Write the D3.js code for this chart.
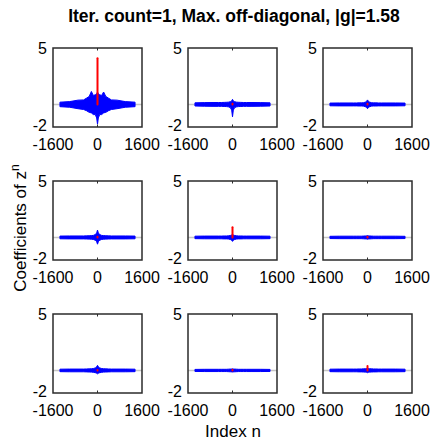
<!DOCTYPE html>
<html>
<head>
<meta charset="utf-8">
<script src="https://cdn.jsdelivr.net/npm/d3@7/dist/d3.min.js"></script>
<style>
  body { margin: 0; background: #fff; }
  svg text { font-family: "Liberation Sans", Arial, Helvetica, sans-serif; fill: #000; }
</style>
</head>
<body>
<svg id="chart" width="436" height="440"></svg>
<script>
// axis values
const xTicks = [-1600, 0, 1600];
const yTicks = [-2, 5];
const xDomain = [-1600, 1600];
const yDomain = [-2, 5];

// sample positions for the envelope of the blue (off-diagonal) coefficients
const envX = [-1350, -1000, -700, -500, -400, -300, -220, -150, -80, -30, 0,
              30, 80, 150, 220, 300, 400, 500, 700, 1000, 1350];

// upper / lower envelope of the blue band, one row per subplot (row-major)
const envUpper = [
  [0.2, 0.25, 0.38, 0.4, 0.55, 0.7, 1.15, 0.8, 0.85, 0.95, 1.1, 0.95, 0.85, 0.8, 1.1, 0.7, 0.55, 0.4, 0.38, 0.25, 0.2],
  [0.14, 0.16, 0.17, 0.17, 0.17, 0.18, 0.19, 0.2, 0.24, 0.3, 0.45, 0.3, 0.24, 0.2, 0.19, 0.18, 0.17, 0.17, 0.17, 0.16, 0.14],
  [0.12, 0.13, 0.13, 0.13, 0.13, 0.14, 0.14, 0.15, 0.2, 0.28, 0.4, 0.28, 0.2, 0.15, 0.14, 0.14, 0.13, 0.13, 0.13, 0.13, 0.12],
  [0.12, 0.13, 0.13, 0.13, 0.14, 0.15, 0.16, 0.18, 0.25, 0.4, 0.65, 0.4, 0.25, 0.18, 0.16, 0.15, 0.14, 0.13, 0.13, 0.13, 0.12],
  [0.11, 0.12, 0.12, 0.12, 0.12, 0.13, 0.13, 0.14, 0.17, 0.22, 0.28, 0.22, 0.17, 0.14, 0.13, 0.13, 0.12, 0.12, 0.12, 0.12, 0.11],
  [0.1, 0.11, 0.11, 0.11, 0.11, 0.11, 0.11, 0.12, 0.13, 0.14, 0.16, 0.14, 0.13, 0.12, 0.11, 0.11, 0.11, 0.11, 0.11, 0.11, 0.1],
  [0.11, 0.12, 0.12, 0.12, 0.13, 0.14, 0.15, 0.17, 0.22, 0.32, 0.45, 0.32, 0.22, 0.17, 0.15, 0.14, 0.13, 0.12, 0.12, 0.12, 0.11],
  [0.09, 0.1, 0.1, 0.1, 0.1, 0.1, 0.1, 0.11, 0.12, 0.13, 0.14, 0.13, 0.12, 0.11, 0.1, 0.1, 0.1, 0.1, 0.1, 0.1, 0.09],
  [0.11, 0.12, 0.12, 0.12, 0.12, 0.13, 0.13, 0.14, 0.15, 0.17, 0.2, 0.17, 0.15, 0.14, 0.13, 0.13, 0.12, 0.12, 0.12, 0.12, 0.11]
];
const envLower = [
  [-0.2, -0.25, -0.38, -0.45, -0.55, -0.7, -0.75, -0.9, -0.9, -1.2, -1.75, -1.2, -0.9, -0.9, -0.75, -0.7, -0.55, -0.45, -0.38, -0.25, -0.2],
  [-0.14, -0.16, -0.17, -0.17, -0.17, -0.18, -0.19, -0.21, -0.28, -0.5, -1.1, -0.5, -0.28, -0.21, -0.19, -0.18, -0.17, -0.17, -0.17, -0.16, -0.14],
  [-0.12, -0.13, -0.13, -0.13, -0.13, -0.14, -0.14, -0.15, -0.2, -0.28, -0.38, -0.28, -0.2, -0.15, -0.14, -0.14, -0.13, -0.13, -0.13, -0.13, -0.12],
  [-0.12, -0.13, -0.13, -0.13, -0.14, -0.15, -0.16, -0.18, -0.25, -0.38, -0.6, -0.38, -0.25, -0.18, -0.16, -0.15, -0.14, -0.13, -0.13, -0.13, -0.12],
  [-0.11, -0.12, -0.12, -0.12, -0.12, -0.13, -0.13, -0.14, -0.18, -0.25, -0.35, -0.25, -0.18, -0.14, -0.13, -0.13, -0.12, -0.12, -0.12, -0.12, -0.11],
  [-0.1, -0.11, -0.11, -0.11, -0.11, -0.11, -0.11, -0.12, -0.13, -0.14, -0.16, -0.14, -0.13, -0.12, -0.11, -0.11, -0.11, -0.11, -0.11, -0.11, -0.1],
  [-0.11, -0.12, -0.12, -0.12, -0.13, -0.14, -0.15, -0.17, -0.2, -0.25, -0.3, -0.25, -0.2, -0.17, -0.15, -0.14, -0.13, -0.12, -0.12, -0.12, -0.11],
  [-0.09, -0.1, -0.1, -0.1, -0.1, -0.1, -0.1, -0.11, -0.12, -0.13, -0.14, -0.13, -0.12, -0.11, -0.1, -0.1, -0.1, -0.1, -0.1, -0.1, -0.09],
  [-0.11, -0.12, -0.12, -0.12, -0.12, -0.13, -0.13, -0.14, -0.15, -0.17, -0.2, -0.17, -0.15, -0.14, -0.13, -0.13, -0.12, -0.12, -0.12, -0.12, -0.11]
];

// red (diagonal) coefficient at index 0, per subplot
const redValues = [4.1, 0.05, 0.05, 0.05, 0.9, 0.05, 0.03, 0.05, 0.4];

const titleText = "Iter. count=1, Max. off-diagonal, |g|=1.58";

// layout
const svg = d3.select('#chart');
const colLeft = [53, 188, 323],
      rowTop = [48, 181, 314],
      panelW = 89,
      panelH = 79;

const x = d3.scaleLinear().domain(xDomain).range([0, panelW]);
const y = d3.scaleLinear().domain(yDomain).range([panelH, 0]);

const area = d3.area()
  .x((d, i) => x(envX[i]))
  .y0(d => y(d[1]))
  .y1(d => y(d[0]));

envUpper.forEach((up, k) => {
  const r = Math.floor(k / 3), c = k % 3;
  const g = svg.append('g')
    .attr('transform', `translate(${colLeft[c]},${rowTop[r]})`);

  // zero line
  g.append('line')
    .attr('x1', 0).attr('x2', panelW)
    .attr('y1', y(0)).attr('y2', y(0))
    .attr('stroke', '#c4c4c4')
    .attr('stroke-width', 1.5);

  // blue band
  const pts = up.map((u, i) => [u, envLower[k][i]]);
  g.append('path')
    .datum(pts)
    .attr('d', area)
    .attr('fill', '#0000ff')
    .attr('stroke', '#0000ff')
    .attr('stroke-width', 1)
    .attr('stroke-linejoin', 'round');

  // red diagonal coefficient
  g.append('line')
    .attr('x1', x(0)).attr('x2', x(0))
    .attr('y1', y(0)).attr('y2', y(redValues[k]))
    .attr('stroke', '#ff0000')
    .attr('stroke-width', 2)
    .attr('stroke-linecap', 'round');

  // box
  g.append('rect')
    .attr('width', panelW).attr('height', panelH)
    .attr('fill', 'none')
    .attr('stroke', '#2b2b2b')
    .attr('stroke-width', 1.5);

  // tick marks at 0 (top and bottom)
  g.append('line')
    .attr('x1', x(0)).attr('x2', x(0))
    .attr('y1', 0).attr('y2', 2.5)
    .attr('stroke', '#2b2b2b');
  g.append('line')
    .attr('x1', x(0)).attr('x2', x(0))
    .attr('y1', panelH).attr('y2', panelH - 2.5)
    .attr('stroke', '#2b2b2b');

  // x tick labels
  g.selectAll('.xt')
    .data(xTicks)
    .enter().append('text')
    .attr('x', d => x(d))
    .attr('y', panelH + 23)
    .attr('text-anchor', 'middle')
    .style('font-size', '16px')
    .text(d => d);

  // y tick labels
  g.selectAll('.yt')
    .data(yTicks)
    .enter().append('text')
    .attr('x', -6)
    .attr('y', d => y(d) + (d < 0 ? 4 : 6))
    .attr('text-anchor', 'end')
    .style('font-size', '16px')
    .text(d => d);
});

// title
svg.append('text')
  .attr('x', 234).attr('y', 22)
  .attr('text-anchor', 'middle')
  .style('font-size', '17.5px')
  .style('font-weight', 'bold')
  .text(titleText);

// x label
svg.append('text')
  .attr('x', 233).attr('y', 437)
  .attr('text-anchor', 'middle')
  .style('font-size', '17px')
  .text('Index n');

// y label with superscript
const yl = svg.append('text')
  .attr('transform', 'translate(26,228) rotate(-90)')
  .attr('text-anchor', 'middle')
  .style('font-size', '17px');
yl.append('tspan').text('Coefficients of z');
yl.append('tspan')
  .attr('dy', -7)
  .style('font-size', '12px')
  .text('n');
</script>
</body>
</html>
